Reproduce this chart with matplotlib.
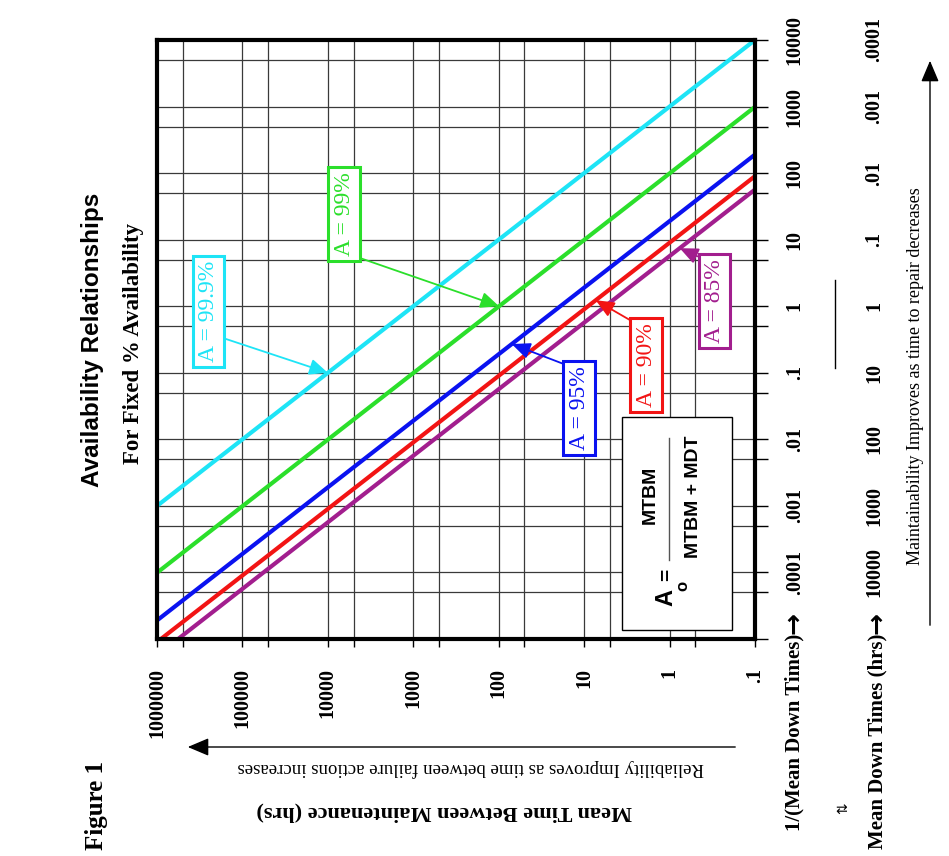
import numpy as np
import matplotlib
matplotlib.use('Agg')
import matplotlib.pyplot as plt
from matplotlib import transforms
from matplotlib.patches import Rectangle, FancyArrowPatch
from matplotlib.lines import Line2D
from matplotlib.ticker import NullFormatter

# availability lines: MTBM = A/(1-A) * MDT
availability = [0.999, 0.99, 0.95, 0.90, 0.85]
line_labels = ['A = 99.9%', 'A = 99%', 'A = 95%', 'A = 90%', 'A = 85%']
line_colors = ['#1EE4F6', '#2BDF2B', '#0A12F0', '#F21414', '#A21E8E']

# 1/(Mean Down Time) span of the chart, and where each label arrow hits its line
inv_mdt_range = [1e-5, 1e4]
arrow_inv_mdt = [0.1, 1.0, 0.27, 1.23, 7.45]

# axis ticks
mtbm_ticks = [1e6, 1e5, 1e4, 1e3, 1e2, 1e1, 1, 0.1]
mtbm_labels = ['1000000', '100000', '10000', '1000', '100', '10', '1', '.1']
mtbm_minor = [5e5, 5e4, 5e3, 500, 50, 5, 0.5]
inv_mdt_ticks = [1e-5, 1e-4, 1e-3, 1e-2, 1e-1, 1, 10, 100, 1000, 1e4]
inv_mdt_labels = ['', '.0001', '.001', '.01', '.1', '1', '10', '100', '1000', '10000']
inv_mdt_minor = [5e-5, 5e-4, 5e-3, 5e-2, 0.5, 5, 50, 500, 5000]
mdt_labels = ['', '10000', '1000', '100', '10', '1', '.1', '.01', '.001', '.0001']

# label box centres (axes fraction) and where their arrows leave the box
label_pos = [(0.086, 0.547), (0.313, 0.709), (0.706, 0.386), (0.818, 0.457), (0.932, 0.564)]
arrow_relpos = [(1, 0.25), (1, 0), (0, 1), (0, 1), (0, 1)]

W, H = 949, 856
SERIF = ['Liberation Serif', 'DejaVu Serif']
SANS = ['Liberation Sans', 'DejaVu Sans']


def fx(px):
    return px / W


def fy(py):
    return 1 - py / H


fig = plt.figure(figsize=(W / 100, H / 100), dpi=100)
ax = fig.add_axes([fx(157), fy(639), fx(755) - fx(157), fy(40) - fy(639)])

x_end = np.array(inv_mdt_range)
for a, c in zip(availability, line_colors):
    ratio = a / (1 - a)
    ax.plot(ratio / x_end, x_end, color=c, lw=3, solid_capstyle='butt', zorder=2)

ax.set_xscale('log')
ax.set_yscale('log')
ax.set_xlim(1e6, 0.1)
ax.set_ylim(1e-5, 1e4)

ax.set_xticks(mtbm_ticks)
ax.set_xticklabels(mtbm_labels, rotation=90, family=SERIF, weight='bold', fontsize=14.5)
ax.set_xticks(mtbm_minor, minor=True)
ax.xaxis.set_minor_formatter(NullFormatter())

ax.yaxis.tick_right()
ax.set_yticks(inv_mdt_ticks)
ax.set_yticklabels(inv_mdt_labels, rotation=90, va='center', family=SERIF, weight='bold', fontsize=14.5)
ax.set_yticks(inv_mdt_minor, minor=True)
ax.yaxis.set_minor_formatter(NullFormatter())

ax.tick_params(axis='x', which='both', length=6, width=1, direction='out', pad=15, top=False)
ax.tick_params(axis='y', which='both', length=9.5, width=1, direction='out', pad=12, left=False, right=True)
ax.grid(True, which='both', color='#3a3a3a', lw=0.9)
for s in ax.spines.values():
    s.set_linewidth(3)

# labels with arrows onto each line
for i in range(len(availability)):
    c = line_colors[i]
    ratio = availability[i] / (1 - availability[i])
    tip = (ratio / arrow_inv_mdt[i], arrow_inv_mdt[i])
    ax.annotate(line_labels[i], xy=tip, xycoords='data', xytext=label_pos[i], textcoords='axes fraction',
                rotation=90, ha='center', va='center', color=c, fontsize=17, family=SERIF,
                bbox=dict(boxstyle='square,pad=0.22', fc='white', ec=c, lw=2.2),
                arrowprops=dict(arrowstyle='-|>,head_length=0.8,head_width=0.35', color=c, lw=1.3,
                                mutation_scale=14, shrinkA=0, shrinkB=0, relpos=arrow_relpos[i]),
                zorder=5)

# formula box  A_o = MTBM / (MTBM + MDT)
fig.add_artist(Rectangle((fx(622), fy(630)), fx(732) - fx(622), fy(417) - fy(630),
                         transform=fig.transFigure, fc='white', ec='black', lw=1, zorder=4))
fig.text(fx(650), fy(495), 'MTBM', rotation=90, ha='center', va='center',
         family=SANS, weight='bold', fontsize=14, zorder=5)
fig.add_artist(Line2D([fx(669), fx(669)], [fy(560), fy(438)], transform=fig.transFigure,
                      color='#555555', lw=1, zorder=5))
fig.text(fx(693), fy(497), 'MTBM + MDT', rotation=90, ha='center', va='center',
         family=SANS, weight='bold', fontsize=14, zorder=5)
fig.text(fx(667), fy(575), '=', rotation=90, ha='center', va='center',
         family=SANS, weight='bold', fontsize=15, zorder=5)
fig.text(fx(666), fy(598), 'A', rotation=90, ha='center', va='center',
         family=SANS, weight='bold', fontsize=17, zorder=5)
fig.text(fx(683), fy(586), 'o', rotation=90, ha='center', va='center',
         family=SANS, weight='bold', fontsize=12, zorder=5)

# second row: mean down times
trans = transforms.blended_transform_factory(fig.transFigure, ax.transData)
for v, lab in zip(inv_mdt_ticks, mdt_labels):
    ax.text(fx(874), v, lab, transform=trans, rotation=90, ha='center', va='center',
            family=SERIF, weight='bold', fontsize=14.5)

for xpx, lab in [(794, '1/(Mean Down Times)'), (877, 'Mean Down Times (hrs)')]:
    fig.text(fx(xpx), fy(612), '\u2192', rotation=90, ha='center', va='top',
             family='DejaVu Sans', weight='bold', fontsize=19)
    fig.text(fx(xpx), fy(634), lab, rotation=90, ha='center', va='top',
             family=SERIF, weight='bold', fontsize=15)
fig.text(fx(843), fy(808), '\u21c5', rotation=90, ha='center', va='center', fontsize=10)
fig.add_artist(Line2D([fx(835), fx(835)], [fy(280), fy(368)], transform=fig.transFigure, color='black', lw=1))

# titles
fig.text(fx(93), fy(340), 'Availability Relationships', rotation=90, ha='center', va='center',
         family=SANS, weight='bold', fontsize=17.5)
fig.text(fx(134), fy(343), 'For Fixed % Availability', rotation=90, ha='center', va='center',
         family=SERIF, weight='bold', fontsize=16.5)
fig.text(fx(97), fy(805), 'Figure 1', rotation=90, ha='center', va='center',
         family=SERIF, weight='bold', fontsize=18)

# reliability axis title + arrow (upside down)
fig.text(fx(444), fy(812), 'Mean Time Between Maintenance (hrs)', rotation=180, ha='center', va='center',
         family=SERIF, weight='bold', fontsize=16)
fig.text(fx(471), fy(768), 'Reliability Improves as time between failure actions increases', rotation=180,
         ha='center', va='center', family=SERIF, fontsize=13.5)
fig.add_artist(FancyArrowPatch((fx(738), fy(747)), (fx(185), fy(747)),
                               transform=fig.transFigure, color='black', lw=1,
                               arrowstyle='-|>,head_length=1.3,head_width=0.55', mutation_scale=10))

# maintainability arrow
fig.text(fx(915), fy(376), 'Maintainability Improves as time to repair decreases', rotation=90,
         ha='center', va='center', family=SERIF, fontsize=13)
fig.add_artist(FancyArrowPatch((fx(930), fy(628)), (fx(930), fy(58)),
                               transform=fig.transFigure, color='black', lw=1,
                               arrowstyle='-|>,head_length=1.3,head_width=0.55', mutation_scale=10))

fig.savefig('out.png', dpi=100, facecolor='white')
